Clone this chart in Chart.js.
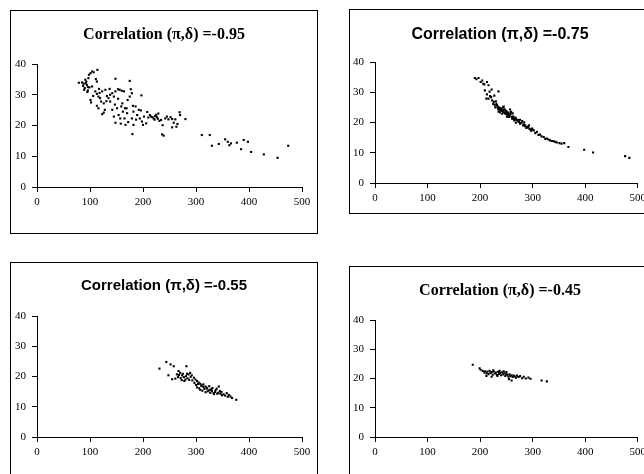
<!DOCTYPE html>
<html>
<head>
<meta charset="utf-8">
<script src="https://cdn.jsdelivr.net/npm/chart.js@4/dist/chart.umd.min.js"></script>
<style>
  html, body { margin: 0; padding: 0; background: #fff; width: 644px; height: 474px; overflow: hidden; position: relative; }
  .frame { position: absolute; border: 1px solid #000; box-sizing: border-box; background: #fff; }
  .frame canvas { display: block; }
</style>
</head>
<body>
<div class="frame" style="left:10px; top:10px; width:308px; height:224px;"><canvas id="c95"></canvas></div>
<div class="frame" style="left:349px; top:9px; width:302px; height:205px;"><canvas id="c75"></canvas></div>
<div class="frame" style="left:10px; top:262px; width:308px; height:224px;"><canvas id="c55"></canvas></div>
<div class="frame" style="left:349px; top:266px; width:302px; height:224px;"><canvas id="c45"></canvas></div>
<script>
// axis ticks shared by all four plots
const xTicks = [0, 100, 200, 300, 400, 500];
const yTicks = [0, 10, 20, 30, 40];

// (pi, delta) samples, one list per correlation value
const points95 = [
  [79,33.9],[85,34],[88,33.6],[91,34.9],[93,34.3],[94,33.2],[96,32.5],[90,32.2],[87,32.9],[97,35.4],
  [98,36.5],[101,37],[104,37.6],[107,37.3],[114,38.1],[96,31.4],[99,32.4],[104,32.7],[111,35.1],[113,34.3],
  [101,28.3],[102,27.5],[110,31.1],[113,30.3],[116,29.4],[119,28.9],[121,27.8],[126,27.2],[123,31.1],[129,31.6],
  [132,29.6],[135,28.9],[138,30],[142,30.5],[145,29.4],[148,31.1],[148,35.2],[153,31.8],[156,31.6],[160,31.3],
  [164,31.1],[113,26.4],[116,25.6],[123,23.7],[126,24.2],[138,27.8],[142,25.1],[145,22.9],[148,20.9],[151,25.6],
  [154,23.4],[157,22.3],[159,26.2],[162,24.5],[165,22.3],[167,20.2],[169,25.6],[170,24],[171,28.3],[175,29.4],
  [177,31.8],[175,34.5],[179,30.5],[181,26.4],[182,24.5],[179,22.3],[182,20.2],[180,17.2],[186,26.2],[189,23.4],
  [192,25.1],[194,22.3],[197,29.8],[198,21.3],[200,20.2],[202,22.9],[206,20.7],[208,24.4],[213,23.4],[215,22.9],
  [218,22.7],[220,22.3],[223,23.1],[225,23.5],[226,22.7],[228,22.2],[231,21.5],[234,21.8],[236,17.1],[239,16.7],
  [237,20.1],[242,22.3],[245,22.9],[248,22],[252,22.7],[255,22.1],[255,19.4],[258,20.9],[261,22],[263,19.6],
  [265,20.5],[269,24.3],[270,23.4],[280,22.1],[311,16.9],[326,16.9],[330,13.4],[343,14],[355,15.5],[360,14.7],
  [363,13.6],[366,14.2],[377,14.4],[385,12.3],[390,15.3],[398,14.7],[404,11.4],[428,10.6],[454,9.5],[474,13.4],
  [92,33.8],[89,31.6],[95,30.9],[106,29.6],[118,30.6],[131,27.9],[137,31.9],[147,26.8],[153,28.7],[161,27.2],
  [166,25.6],[172,21.1],[187,21.9],[196,24.9],[210,22.6],[222,21.9],[229,23.9],[117,31.9],[128,25.1],[158,20.6]
];

const points75 = [
  [190,34.7],[193,34.3],[197,34.7],[201,33.4],[204,33.9],[206,32.8],[208,32.6],[213,33.4],[216,32.3],[222,30.9],
  [235,30.3],[209,30.6],[213,29.3],[216,27.9],[219,28.7],[221,28.4],[212,27.9],[223,27.3],[226,26.8],[230,27],
  [231,26.2],[228,25.7],[233,25.3],[234,24.6],[236,24.9],[237,24],[239,24.5],[242,23.8],[244,25.1],[245,23.4],
  [247,24.2],[248,22.9],[250,23.7],[252,22.4],[253,23.1],[255,21.8],[257,22.7],[259,23.5],[261,21.3],[263,22],
  [265,20.7],[267,21.6],[270,20.9],[274,20.2],[277,19.8],[280,20.5],[283,19.4],[286,19.1],[289,18.5],[292,18.7],
  [296,17.7],[299,18],[302,17.4],[308,16.9],[314,16],[321,15.2],[327,14.7],[333,14.1],[340,13.8],[346,13.4],
  [351,13.2],[355,13],[360,13.2],[368,11.9],[398,11],[415,10.1],[476,8.9],[484,8.3],
  [232,25.8],[234,25.2],[236,24.4],[238,24.8],[240,23.9],[241,24.6],[243,24.1],[244,23.6],[246,24.4],[247,23.2],
  [249,23.9],[250,22.8],[251,23.4],[253,22.6],[254,23.3],[256,22.2],[258,22.9],[260,21.9],[262,21.6],[264,21.2],
  [266,20.9],[268,21.3],[271,20.4],[273,20.8],[276,19.6],[279,19.9],[282,19.0],[285,18.8],[288,18.2],[291,18.4],
  [294,17.9],[297,17.3],[300,17.6],[305,16.5],[311,15.9],[317,15.4],[324,14.6],[330,14.4],[337,13.9],[343,13.6],
  [238,23.3],[242,22.9],[245,25.3],[251,21.9],[257,24.3],[262,23.0],[268,19.9],[276,20.9],[284,20.1],[293,19.1],
  [227,28.9],[218,30.2],[225,26.1],[229,25.0],[235,23.6]
];

const points55 = [
  [231,22.6],[244,24.8],[252,24],[258,23.4],[248,20.4],[255,19.1],[261,19.3],[264,20.7],[267,21.8],[270,21.2],
  [274,20.4],[277,19.8],[280,19],[282,23.4],[283,20.9],[286,20.7],[289,21.2],[292,20.4],[296,19.6],[299,19],
  [302,18.5],[305,18],[308,17.6],[311,17.1],[314,16.5],[318,16.7],[321,16],[324,15.4],[327,15.6],[330,15.2],
  [333,14.5],[336,14.9],[340,14.3],[343,16.7],[346,14.3],[349,13.8],[358,14.5],[365,13.4],[376,12.3],
  [266,19.8],[268,20.5],[271,19.5],[273,18.8],[275,20.9],[278,18.5],[281,20.1],[284,19.4],[287,18.9],[290,19.9],
  [293,18.7],[297,17.9],[300,17.2],[302,16.4],[304,17.5],[306,16.1],[308,15.6],[310,16.9],[312,15.3],[314,17.4],
  [316,15.9],[318,14.8],[320,16.3],[322,15.1],[325,16.8],[327,14.6],[329,15.8],[331,16.2],[334,14.2],[337,15.5],
  [339,16.0],[342,14.6],[345,15.2],[348,14.9],[352,14.1],[355,13.7],[360,13.3],[362,13.9],[368,12.9]
];

const points45 = [
  [186,24.7],[199,23.5],[201,23.0],[317,19.3],[327,19.0],
  [205,22.6],[208,22.1],[210,22.5],[212,21.8],[214,22.3],[216,21.5],[218,22.6],[220,21.9],[222,22.2],[224,21.3],
  [226,22.4],[228,21.7],[230,22.0],[232,21.2],[234,22.3],[236,21.6],[238,21.9],[240,21.1],[242,22.1],[244,21.4],
  [246,21.8],[248,20.9],[250,21.6],[252,21.2],[254,20.6],[256,21.4],[258,20.8],[260,21.1],[262,20.5],[264,21.0],
  [266,20.7],[268,20.3],[270,21.0],[273,20.5],[276,20.8],[280,20.1],[283,20.6],[287,20.0],[292,20.3],[296,19.9],
  [212,20.9],[222,20.6],[233,20.9],[245,22.5],[255,19.8],[260,19.3],[225,22.8],[237,22.6],[250,22.2]
];

const SERIF = "'Liberation Serif', 'Times New Roman', serif";
const SANS = "'Liberation Sans', Arial, sans-serif";

function scatter(id, opts) {
  const el = document.getElementById(id);
  el.width = opts.w;
  el.height = opts.h;
  el.style.width = opts.w + 'px';
  el.style.height = opts.h + 'px';

  const axisGrid = { drawOnChartArea: false, drawTicks: true, tickLength: 5, color: '#000', lineWidth: 1 };
  const tickFont = { family: SERIF, size: 11 };

  return new Chart(el, {
    type: 'scatter',
    data: {
      datasets: [{
        data: opts.points.map(p => ({ x: p[0], y: p[1] })),
        backgroundColor: '#000',
        borderWidth: 0,
        pointStyle: 'rect',
        pointRadius: 1.5
      }]
    },
    options: {
      responsive: false,
      animation: false,
      events: [],
      layout: { padding: 0 },
      plugins: {
        legend: { display: false },
        tooltip: { enabled: false },
        title: {
          display: true,
          text: opts.title,
          color: '#000',
          font: { family: opts.titleFont, size: opts.titleSize, weight: 'bold', lineHeight: 1.2 },
          padding: { top: opts.titleTop, bottom: opts.titleBottom }
        }
      },
      scales: {
        x: {
          type: 'linear',
          min: 0,
          max: 500,
          afterBuildTicks: s => { s.ticks = xTicks.map(v => ({ value: v })); },
          afterFit: s => { s.height = opts.xAxisH; },
          border: { color: '#000', width: 1 },
          grid: axisGrid,
          ticks: { color: '#000', font: tickFont, padding: 4, maxRotation: 0 }
        },
        y: {
          type: 'linear',
          min: 0,
          max: 40,
          afterBuildTicks: s => { s.ticks = yTicks.map(v => ({ value: v })); },
          afterFit: s => { s.width = opts.yAxisW; },
          border: { color: '#000', width: 1 },
          grid: axisGrid,
          ticks: { color: '#000', font: tickFont, padding: 6 }
        },
        // empty right-hand axis: only reserves the margin right of the plot
        spacer: {
          type: 'linear',
          position: 'right',
          grid: { display: false },
          border: { display: false },
          ticks: { display: false },
          afterFit: s => { s.width = opts.rightW; }
        }
      }
    }
  });
}

scatter('c95', {
  points: points95, title: 'Correlation (π,δ) =-0.95', titleFont: SERIF, titleSize: 16,
  w: 306, h: 222, rightW: 15, yAxisW: 26, xAxisH: 46, titleTop: 14.4, titleBottom: 19.4
});
scatter('c75', {
  points: points75, title: 'Correlation (π,δ) =-0.75', titleFont: SANS, titleSize: 16,
  w: 300, h: 203, rightW: 10, yAxisW: 25, xAxisH: 30, titleTop: 15.4, titleBottom: 17.4
});
scatter('c55', {
  points: points55, title: 'Correlation (π,δ) =-0.55', titleFont: SANS, titleSize: 15,
  w: 306, h: 222, rightW: 15, yAxisW: 26, xAxisH: 48, titleTop: 14, titleBottom: 21
});
scatter('c45', {
  points: points45, title: 'Correlation (π,δ) =-0.45', titleFont: SERIF, titleSize: 16,
  w: 300, h: 222, rightW: 10, yAxisW: 25, xAxisH: 52, titleTop: 14.4, titleBottom: 19.4
});
</script>
</body>
</html>
